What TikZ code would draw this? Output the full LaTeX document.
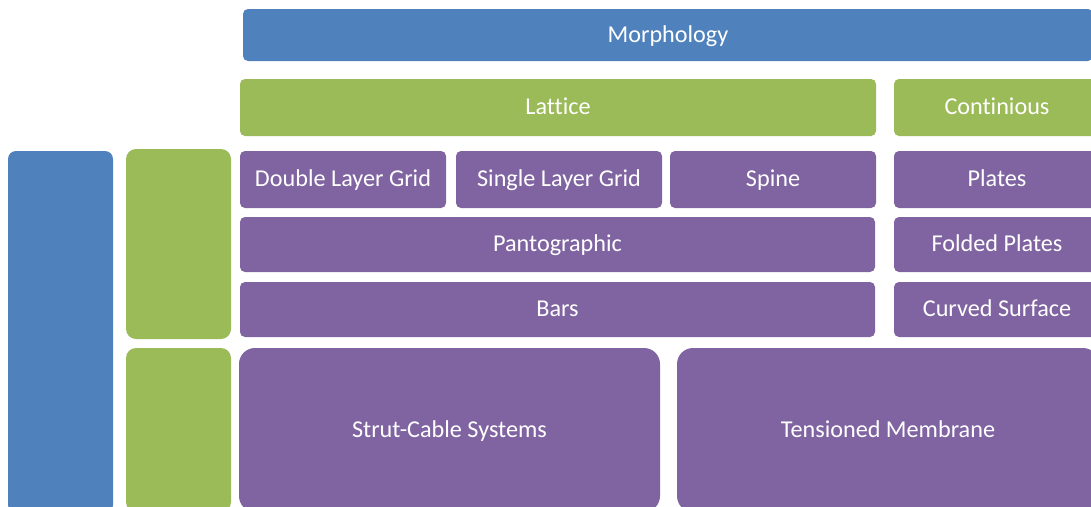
\documentclass[tikz,border=0pt]{standalone}
\usepackage{fontspec}
\setmainfont[Ligatures=NoCommon]{Carlito}
\usepackage{xcolor}
\definecolor{MorphBlue}{HTML}{4F81BD}
\definecolor{ClassGreen}{HTML}{9BBB59}
\definecolor{TypePurple}{HTML}{8064A2}
\usetikzlibrary{positioning}
\newcommand\TileWidth{206}
\newcommand\RowHeight{57}
\newcommand\BandHeight{55}
\newcommand\SideWidth{105}
\tikzstyle{tile}=[rectangle,rounded corners=5pt,inner sep=0pt,text=white,
                  text height=19.6pt,text depth=5.6pt,
                  font=\fontsize{24.2}{28}\selectfont]
\tikzstyle{bluetile}=[tile,fill=MorphBlue]
\tikzstyle{greentile}=[tile,fill=ClassGreen]
\tikzstyle{purpletile}=[tile,fill=TypePurple]

\begin{document}
\begin{tikzpicture}[x=1pt,y=-1pt]
      \useasboundingbox (0,0) rectangle (1091,506);
      % header rows
      \node[bluetile,minimum width=850,minimum height=52] (morph) at (668,35) {Morphology};
      \node[greentile,minimum width=636,minimum height=\RowHeight] (lattice) at (558,107.5) {Lattice};
      \node[greentile,minimum width=\TileWidth,minimum height=\RowHeight] (continious) at (997,107.5) {Continious};
      % lattice types
      \node[purpletile,minimum width=\TileWidth,minimum height=\RowHeight] (dlgrid) at (343,179.5) {Double Layer Grid};
      \node[purpletile,minimum width=\TileWidth,minimum height=\RowHeight] (slgrid) at (559,179.5) {Single Layer Grid};
      \node[purpletile,minimum width=\TileWidth,minimum height=\RowHeight] (spine) at (773,179.5) {Spine};
      \node[purpletile,minimum width=635,minimum height=\BandHeight] (panto) at (557.5,244.5) {Pantographic};
      \node[purpletile,minimum width=635,minimum height=\BandHeight] (bars) at (557.5,309.5) {Bars};
      % continuous types
      \node[purpletile,minimum width=\TileWidth,minimum height=\RowHeight] (plates) at (997,179.5) {Plates};
      \node[purpletile,minimum width=\TileWidth,minimum height=\BandHeight] (folded) at (997,244.5) {Folded Plates};
      \node[purpletile,minimum width=\TileWidth,minimum height=\BandHeight] (curved) at (997,309.5) {Curved Surface};
      % tension systems
      \node[purpletile,rounded corners=16pt,minimum width=421,minimum height=164] (strut) at (449.5,430) {Strut-Cable Systems};
      \node[purpletile,rounded corners=16pt,minimum width=422,minimum height=164] (membrane) at (888,430) {Tensioned Membrane};
      % side bars
      \node[bluetile,rounded corners=8pt,minimum width=\SideWidth,minimum height=362] (sideblue) at (60.5,332) {};
      \node[greentile,rounded corners=10pt,minimum width=\SideWidth,minimum height=190] (sidegreen) at (178.5,244) {};
      \node[greentile,rounded corners=10pt,minimum width=\SideWidth,minimum height=164] (sidegreenlow) at (178.5,430) {};
   \end{tikzpicture}
\end{document}
